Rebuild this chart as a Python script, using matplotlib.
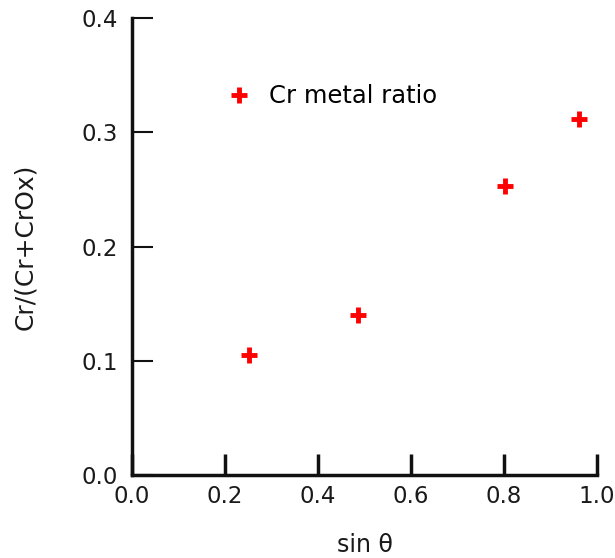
import matplotlib
matplotlib.use("Agg")
import matplotlib.pyplot as plt

sin_theta = [0.251, 0.485, 0.803, 0.961]
cr_ratio = [0.105, 0.140, 0.253, 0.312]
x_ticks = [0.0, 0.2, 0.4, 0.6, 0.8, 1.0]
y_ticks = [0.0, 0.1, 0.2, 0.3, 0.4]
x_ticklabels = ["0.0", "0.2", "0.4", "0.6", "0.8", "1.0"]
y_ticklabels = ["0.0", "0.1", "0.2", "0.3", "0.4"]
series_label = "Cr metal ratio"

fig = plt.figure(figsize=(6.15, 5.58), dpi=100)
ax = fig.add_axes([132/615, 1-475/558, (597-132)/615, (475-18)/558])

ax.plot(sin_theta, cr_ratio, linestyle="none", marker="+", markersize=11,
        markeredgewidth=3.5, color="#ff0000", label=series_label)

ax.set_xlim(0, 1.0)
ax.set_ylim(0, 0.4)
ax.set_xticks(x_ticks)
ax.set_xticklabels(x_ticklabels)
ax.set_yticks(y_ticks)
ax.set_yticklabels(y_ticklabels)

for s in ["top", "right"]:
    ax.spines[s].set_visible(False)
for s in ["left", "bottom"]:
    ax.spines[s].set_linewidth(2.5)
    ax.spines[s].set_color("#111111")

ax.tick_params(axis="both", direction="in", length=15, width=1.5, color="#111111",
               labelsize=16.5, labelcolor="#1a1a1a")
ax.tick_params(axis="x", pad=7, width=2.5)
ax.tick_params(axis="y", pad=10)

ax.set_xlabel("sin θ", fontsize=17, labelpad=18, color="#1a1a1a")
ax.set_ylabel("Cr/(Cr+CrOx)", fontsize=18, labelpad=32, color="#1a1a1a")

ax.legend(loc="center left", bbox_to_anchor=(0.199, 0.829), frameon=False,
          fontsize=17.5, handlelength=1.2, handletextpad=0.62, borderpad=0,
          borderaxespad=0)

fig.savefig("out.png", dpi=100)
